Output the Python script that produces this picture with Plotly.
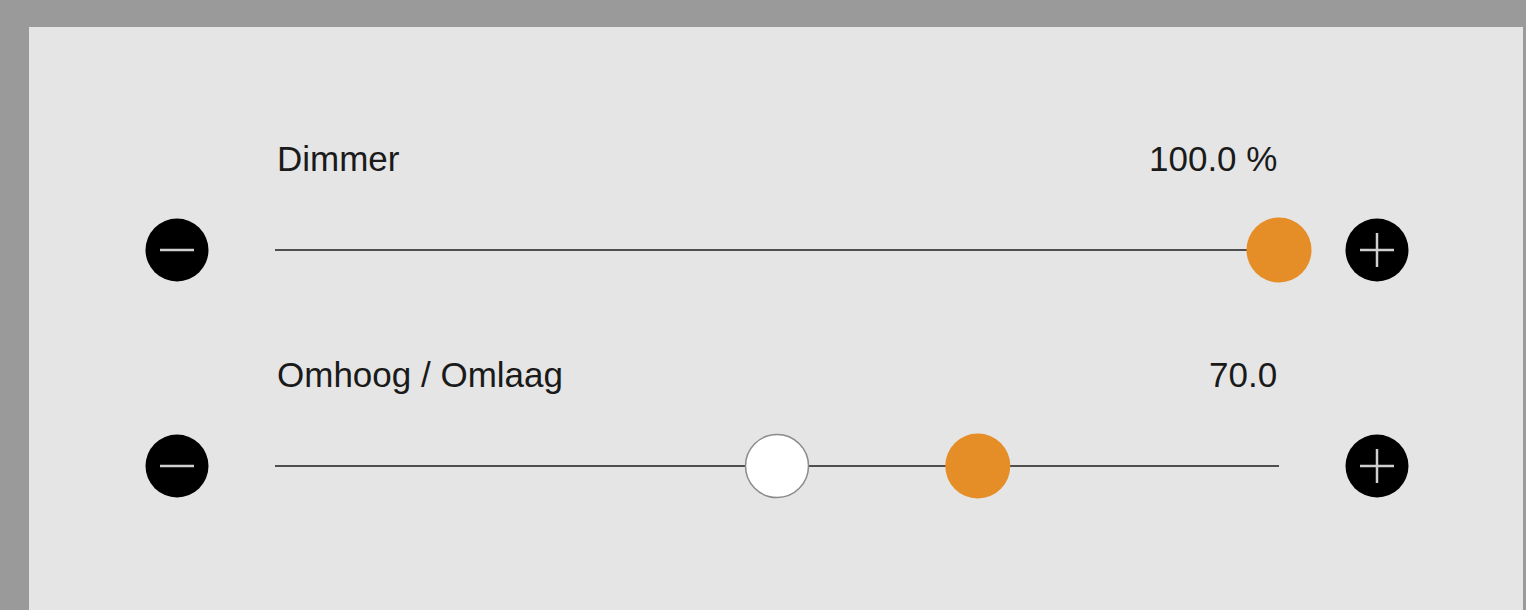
import plotly.graph_objects as go

# ---- data ----
slider_labels = ["Dimmer", "Omhoog / Omlaag"]
slider_values = [100.0, 70.0]          # orange knob value (%)
slider_value_text = ["100.0 %", "70.0"]
slider_targets = [None, 50.0]          # white knob value (%)
value_min, value_max = 0.0, 100.0

# ---- layout constants (pixels) ----
W, H = 1526, 610
track_left_px, track_right_px = 275, 1279
row_y_px = [250, 466]
label_y_offset_px = -92
button_offset_px = 98
scale = (track_right_px - track_left_px) / (value_max - value_min)
x_range = [value_min - track_left_px / scale, value_min + (W - track_left_px) / scale]

def px_to_x(dpx):
    return dpx / scale

ORANGE = "#E58D26"
TRACK = "#4f4f4f"
TXT = "#1a1a1a"
FONT = "Liberation Sans"
BG = "#9a9a9a"

fig = go.Figure()
shapes = []
annotations = []

# panel
shapes.append(dict(type="rect", xref="paper", yref="paper", x0=29 / W, x1=1523 / W,
                   y0=-0.1, y1=1 - 27 / H, fillcolor="#e5e5e5", line=dict(width=0), layer="below"))

for i, lab in enumerate(slider_labels):
    yy = row_y_px[i]
    # track
    fig.add_trace(go.Scatter(x=[value_min, value_max], y=[yy, yy], mode="lines",
                             line=dict(color=TRACK, width=2), hoverinfo="skip", showlegend=False))
    # minus / plus buttons
    xm = value_min - px_to_x(button_offset_px)
    xp = value_max + px_to_x(button_offset_px)
    fig.add_trace(go.Scatter(x=[xm, xp], y=[yy, yy], mode="markers",
                             marker=dict(size=63, color="#000000", line=dict(width=0)),
                             hoverinfo="skip", showlegend=False))
    half = px_to_x(17)
    for (x0, x1, y0, y1) in [(xm - half, xm + half, yy, yy),
                             (xp - half, xp + half, yy, yy),
                             (xp, xp, yy - 17, yy + 17)]:
        shapes.append(dict(type="line", xref="x", yref="y", x0=x0, x1=x1, y0=y0, y1=y1,
                           line=dict(color="#cfcfcf", width=2.5)))
    # white target knob
    if slider_targets[i] is not None:
        fig.add_trace(go.Scatter(x=[slider_targets[i]], y=[yy], mode="markers",
                                 marker=dict(size=63, color="#ffffff", line=dict(color="#8a8a8a", width=1.5)),
                                 hoverinfo="skip", showlegend=False))
    # orange value knob
    fig.add_trace(go.Scatter(x=[slider_values[i]], y=[yy], mode="markers",
                             marker=dict(size=65, color=ORANGE, line=dict(width=0)),
                             hoverinfo="skip", showlegend=False))
    # labels
    annotations.append(dict(x=value_min, y=yy + label_y_offset_px, xref="x", yref="y", text=lab,
                            showarrow=False, xanchor="left", yanchor="middle",
                            font=dict(family=FONT, size=35, color=TXT)))
    annotations.append(dict(x=value_max, y=yy + label_y_offset_px, xref="x", yref="y",
                            text=slider_value_text[i], showarrow=False, xanchor="right", yanchor="middle",
                            font=dict(family=FONT, size=35, color=TXT)))

fig.update_layout(
    width=W, height=H, margin=dict(l=0, r=0, t=0, b=0),
    paper_bgcolor=BG, plot_bgcolor="rgba(0,0,0,0)",
    xaxis=dict(range=x_range, visible=False, fixedrange=True),
    yaxis=dict(range=[H, 0], visible=False, fixedrange=True),
    shapes=shapes, annotations=annotations, showlegend=False,
)
fig.write_html(
    "out.html",
    config={"displayModeBar": False},
    post_script=("document.documentElement.style.margin='0';document.body.style.margin='0';"
                 "document.body.style.overflow='hidden';document.body.style.background='" + BG + "';"),
)
